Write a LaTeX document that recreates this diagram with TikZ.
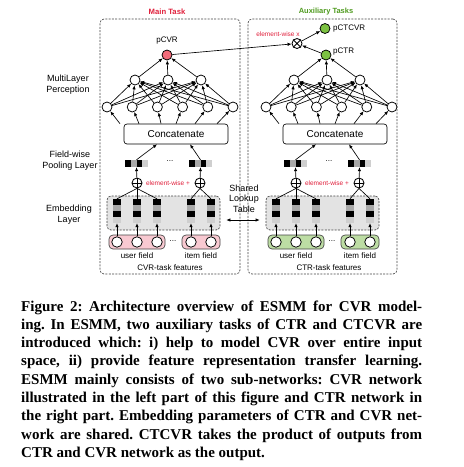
\documentclass[tikz,border=0pt]{standalone}
\usepackage{fontspec}
\setmainfont{Liberation Serif}
\setsansfont{Liberation Sans}
\usetikzlibrary{arrows.meta,calc}
\definecolor{redtxt}{HTML}{E0203C}
\definecolor{greentxt}{HTML}{4E9A1E}
\definecolor{pinknode}{HTML}{F26B7A}
\definecolor{greennode}{HTML}{7CC242}
\definecolor{pinkfield}{HTML}{F8C9D1}
\definecolor{greenfield}{HTML}{BDDDA4}
\definecolor{embfill}{HTML}{E3E3E3}
\definecolor{cellA}{HTML}{A8A8A8}
\definecolor{cellB}{HTML}{CFCFCF}
\definecolor{boxline}{HTML}{444444}
\tikzset{
  arr/.style={-{Latex[length=4pt,width=3.4pt]}, line width=0.65pt},
  plainline/.style={line width=0.65pt},
  neuron/.style={circle, draw, line width=0.75pt, fill=white, minimum size=10pt, inner sep=0pt},
  outnode/.style={neuron, fill=#1},
  opnode/.style={circle, draw, line width=0.85pt, fill=white, minimum size=10pt, inner sep=0pt},
  concatbox/.style={draw, rounded corners=3pt, line width=0.65pt, minimum width=104pt, minimum height=20pt, inner sep=0pt, font=\sffamily\fontsize{10}{12}\selectfont},
  outerbox/.style={draw=boxline, dash pattern=on 2pt off 1.3pt, line width=0.65pt, rounded corners=4pt, inner sep=0pt},
  embbox/.style={draw=boxline, fill=embfill, dash pattern=on 2pt off 1.3pt, line width=0.65pt, rounded corners=4pt, minimum width=113pt, minimum height=34pt, inner sep=0pt},
  fieldbox/.style={draw=boxline, fill=#1, line width=0.65pt, rounded corners=4pt, minimum height=14pt, inner sep=0pt},
  pool/.style={minimum width=23pt, minimum height=7pt, inner sep=0pt, path picture={
     \fill[black] (path picture bounding box.south west) rectangle +(5.75pt,7pt);
     \fill[cellA] ([xshift=5.75pt]path picture bounding box.south west) rectangle +(5.75pt,7pt);
     \fill[black] ([xshift=11.5pt]path picture bounding box.south west) rectangle +(5.75pt,7pt);
     \fill[cellB] ([xshift=17.25pt]path picture bounding box.south west) rectangle +(5.75pt,7pt);}},
  embcol/.style={minimum width=8pt, minimum height=24pt, inner sep=0pt, path picture={
     \fill[black] (path picture bounding box.north west) rectangle +(8pt,-6pt);
     \fill[cellA] ([yshift=-6pt]path picture bounding box.north west) rectangle +(8pt,-6pt);
     \fill[black] ([yshift=-12pt]path picture bounding box.north west) rectangle +(8pt,-6pt);
     \fill[cellB] ([yshift=-18pt]path picture bounding box.north west) rectangle +(8pt,-6pt);}},
  lab/.style={font=\sffamily\fontsize{9}{11}\selectfont, align=center, inner sep=0pt},
  small/.style={font=\sffamily\fontsize{8}{10}\selectfont, inner sep=0pt},
  tiny/.style={font=\sffamily\fontsize{6.5}{8}\selectfont, text=redtxt, inner sep=0pt},
}
\newcommand\drawtower[5]{%
\begin{scope}[xshift=#1pt, name prefix=#2-]
  \node[embbox] (E) at (163.5,213) {};
  \foreach \i/\x in {1/107,2/132.2,3/157.4,4/182.6,5/207.8,6/233}
    \node[neuron] (n\i) at (\x,107) {};
  \foreach \i/\x in {1/135,2/168,3/201}
    \node[neuron] (h\i) at (\x,80) {};
  \node[outnode=#3] (out) at (167,55) {};
  \node[concatbox] (C) at (176,134) {Concatenate};
  \foreach \i/\d in {1/-56,2/-37,3/-15,4/0,5/19,6/41}
    \draw[arr] ([xshift=\d pt]C.north) -- (n\i);
  \foreach \i in {1,...,6}{
    \foreach \j in {1,2,3}{
      \draw[arr] (n\i) -- (h\j);
    }
  }
  \foreach \j in {1,2,3}
    \draw[arr] (h\j) -- (out);
  \node[pool] (P1) at (136.5,163.5) {};
  \node[pool] (P2) at (200.5,163.5) {};
  \node[small] (dots1) at (170,161) {...};
  \draw[arr] (P1.north) -- ([xshift=-19pt]C.south);
  \draw[arr] (P2.north) -- ([xshift=14pt]C.south);
  \node[opnode] (p1) at (137,183) {};
  \node[opnode] (p2) at (200,183) {};
  \draw[line width=0.85pt] (p1.north) -- (p1.south) (p1.west) -- (p1.east);
  \draw[line width=0.85pt] (p2.north) -- (p2.south) (p2.west) -- (p2.east);
  \node[tiny] (ew) at (168,183) {element-wise +};
  \draw[arr] (p1) -- (P1.south);
  \draw[arr] (p2) -- (P2.south);
  \foreach \i/\x in {1/117,2/137,3/157,4/191,5/211}
    \node[embcol] (e\i) at (\x,211) {};
  \foreach \i in {1,2,3} \draw[plainline] (e\i.north) -- (p1.south);
  \foreach \i in {4,5} \draw[plainline] (e\i.north) -- (p2.south);
  \node[fieldbox=#4, minimum width=56pt] (U) at (137,242) {};
  \node[fieldbox=#4, minimum width=38pt] (I) at (201,242) {};
  \foreach \i/\x in {1/117,2/137,3/157,4/191,5/211}{
    \node[neuron, minimum size=10.5pt] (f\i) at (\x,242) {};
    \draw[arr] (f\i.north) -- (e\i.south);
  }
  \node[small] (dots2) at (173,241) {...};
  \node[small] (ul) at (137,256) {user field};
  \node[small] (il) at (201,256) {item field};
  \node[small] (fl) at (170,268) {#5};
\end{scope}}
\begin{document}
\begin{tikzpicture}[x=1pt,y=-1pt]
\useasboundingbox (0,0) rectangle (464,467);
\node[outerbox, minimum width=140pt, minimum height=255pt] (LB) at (170,146.5) {};
\node[outerbox, minimum width=149pt, minimum height=255pt] (RB) at (322.5,146.5) {};
\node[font=\sffamily\bfseries\fontsize{7.7}{9}\selectfont, text=redtxt, inner sep=0pt] (mt) at (167,12) {Main Task};
\node[font=\sffamily\bfseries\fontsize{7.5}{9}\selectfont, text=greentxt, inner sep=0pt] (at) at (326,12) {Auxiliary Tasks};
\drawtower{0}{L}{pinknode}{pinkfield}{CVR-task features}
\drawtower{159}{R}{greennode}{greenfield}{CTR-task features}
\node[small] (lcvr) at (167,41) {pCVR};
\node[small, anchor=west] (lctr) at (333,52) {pCTR};
\node[opnode] (X) at (297,43.5) {};
\draw[line width=0.85pt] (X.north east) -- (X.south west) (X.north west) -- (X.south east);
\node[outnode=greennode] (ctcvr) at (325,28.5) {};
\node[small, anchor=west] (lctcvr) at (333,28.5) {pCTCVR};
\node[tiny] (ewx) at (278,34) {element-wise x};
\draw[arr] (L-out) -- (X);
\draw[arr] (R-out) -- (X);
\draw[arr] (X) -- (ctcvr);
\node[lab] (lmlp) at (68,85) {MultiLayer\\Perception};
\node[lab] (lpool) at (70,160.5) {Field-wise\\Pooling Layer};
\node[lab] (lemb) at (69,214.5) {Embedding\\Layer};
\node[lab, font=\sffamily\fontsize{9}{10.5}\selectfont] (slt) at (244,198.5) {Shared\\Lookup\\Table};
\draw[{Latex[length=4pt,width=3.4pt]}-{Latex[length=4pt,width=3.4pt]}, line width=0.65pt] ([xshift=6pt,yshift=-7pt]L-E.east) -- ([xshift=-6pt,yshift=-7pt]R-E.west);
\node[anchor=base west, text width=401pt, align=justify, inner sep=0pt,
      font=\bfseries\fontsize{15}{18.3}\selectfont] (cap) at (21,311)
 {\frenchspacing\hyphenpenalty=10000 Figure 2: Architecture overview of ESMM for CVR model-\linebreak
 ing. In ESMM, two auxiliary tasks of CTR and CTCVR are\linebreak
 introduced which: i) help to model CVR over entire input\linebreak
 space, ii) provide feature representation transfer learning.\linebreak
 ESMM mainly consists of two sub-networks: CVR network\linebreak
 illustrated in the left part of this figure and CTR network in\linebreak
 the right part. Embedding parameters of CTR and CVR net-\linebreak
 work are shared. CTCVR takes the product of outputs from\linebreak
 CTR and CVR network as the output.};
\end{tikzpicture}
\end{document}
